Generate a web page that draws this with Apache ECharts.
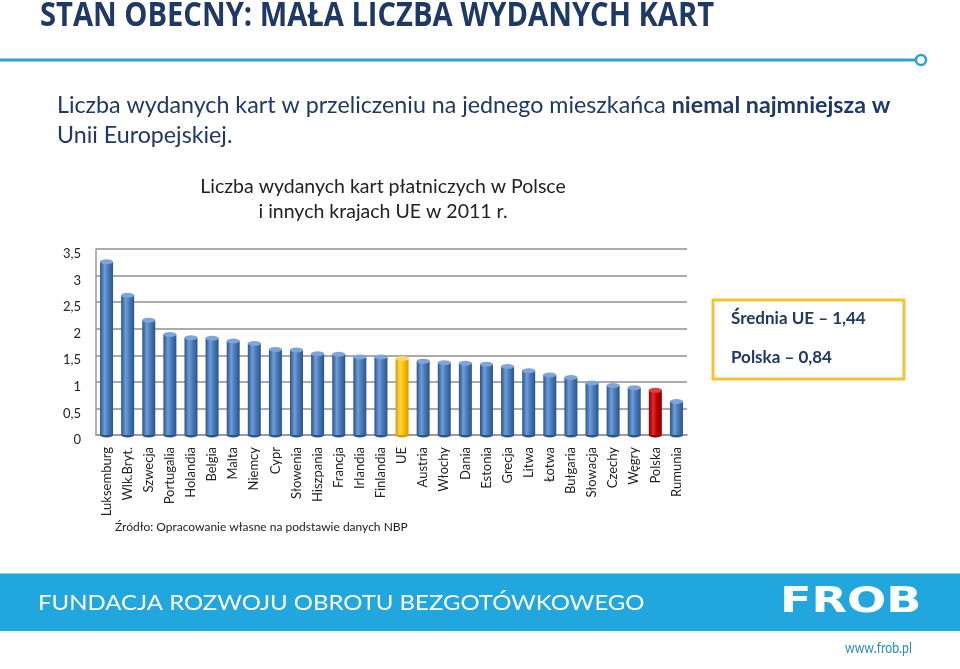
<!DOCTYPE html>
<html><head><meta charset="utf-8">
<script src="https://cdn.jsdelivr.net/npm/echarts@6/dist/echarts.min.js"></script>
<style>html,body{margin:0;padding:0;background:#fff}#c{width:960px;height:669px}</style>
</head><body><div id="c"></div>
<script>
const categories = ['Luksemburg','Wlk.Bryt.','Szwecja','Portugalia','Holandia','Belgia','Malta','Niemcy','Cypr','Słowenia','Hiszpania','Francja','Irlandia','Finlandia','UE','Austria','Włochy','Dania','Estonia','Grecja','Litwa','Łotwa','Bułgaria','Słowacja','Czechy','Węgry','Polska','Rumunia'];
const values = [3.26,2.63,2.16,1.89,1.83,1.82,1.77,1.72,1.61,1.60,1.53,1.52,1.47,1.47,1.44,1.39,1.36,1.35,1.33,1.29,1.21,1.13,1.08,0.98,0.93,0.89,0.84,0.63];
const yTicks = [0,0.5,1,1.5,2,2.5,3,3.5];
const titleText = 'STAN OBECNY: MAŁA LICZBA WYDANYCH KART';
const chartTitle = ['Liczba wydanych kart płatniczych w Polsce','i innych krajach UE w 2011 r.'];
const noteLines = ['Średnia UE – 1,44','Polska – 0,84'];
const sourceText = 'Źródło: Opracowanie własne na podstawie danych NBP';

const palettes = {
  def: {edge:'#2B5489', mid:'#6E9DD8', base:'#4A7DBD', cap:'#7DA5DA'},
  UE: {edge:'#D99A00', mid:'#FFD84D', base:'#FFC000', cap:'#FFD966'},
  Polska: {edge:'#8E0000', mid:'#E22A2A', base:'#C00000', cap:'#E04040'}
};
function pal(name){ return palettes[name] || palettes.def; }
function grad(p){
  return new echarts.graphic.LinearGradient(0,0,1,0,[
    {offset:0,color:p.edge},{offset:0.35,color:p.mid},{offset:0.6,color:p.base},{offset:1,color:p.edge}]);
}

const chart = echarts.init(document.getElementById('c'));
const navy = '#1F3864';
chart.setOption({
  animation:false,
  backgroundColor:'#fff',
  grid:{left:96,top:249,width:591,height:186},
  xAxis:{type:'category',data:categories,
    axisLine:{show:true,lineStyle:{color:'#999',width:1.5}},
    axisTick:{show:false},
    axisLabel:{rotate:90,interval:0,margin:12,fontFamily:'Lato',fontSize:13,color:'#222'}},
  yAxis:{type:'value',min:0,max:3.5,interval:0.5,
    axisLine:{show:true,lineStyle:{color:'#999',width:1.5}},
    axisTick:{show:false},
    splitLine:{lineStyle:{color:'#8f8f8f',width:1.5}},
    axisLabel:{margin:15,fontFamily:'Lato',fontSize:13,color:'#222',verticalAlign:'top',lineHeight:10,
      formatter:v=>String(v).replace('.',',')}},
  series:[
    {type:'bar',barWidth:13,
      data:values.map((v,i)=>({value:v,itemStyle:{color:grad(pal(categories[i]))}}))},
    {type:'pictorialBar',symbol:'circle',symbolSize:[13,5],symbolPosition:'end',symbolOffset:[0,'-50%'],z:3,
      data:values.map((v,i)=>({value:v,itemStyle:{color:pal(categories[i]).cap}}))},
    {type:'pictorialBar',symbol:'circle',symbolSize:[13,5],symbolPosition:'start',symbolOffset:[0,'50%'],z:1,
      data:values.map((v,i)=>({value:v,itemStyle:{color:pal(categories[i]).edge}}))}
  ],
  graphic:[
    {type:'text',x:40,y:16,scaleX:0.857,style:{text:titleText,font:'bold 34px "Open Sans"',fill:navy,textVerticalAlign:'middle'}},
    {type:'line',shape:{x1:0,y1:60,x2:915,y2:60},style:{stroke:'#2FA3CF',lineWidth:3}},
    {type:'circle',shape:{cx:921,cy:60,r:5},style:{stroke:'#2FA3CF',lineWidth:2.5,fill:'#fff'}},
    {type:'text',x:57,y:106,scaleX:1.01,style:{
      text:'{n|Liczba wydanych kart w przeliczeniu na jednego mieszkańca }{b|niemal najmniejsza w}',
      textVerticalAlign:'middle',
      rich:{n:{font:'23px Lato',fill:navy,color:navy},b:{font:'bold 23px Lato',fill:navy,color:navy}}}},
    {type:'text',x:57,y:136,scaleX:1.01,style:{text:'Unii Europejskiej.',font:'23px Lato',fill:navy,textVerticalAlign:'middle'}},
    {type:'text',x:383,y:187,style:{text:chartTitle[0],font:'19.5px Lato',fill:'#222',textAlign:'center',textVerticalAlign:'middle'}},
    {type:'text',x:383,y:212,style:{text:chartTitle[1],font:'19.5px Lato',fill:'#222',textAlign:'center',textVerticalAlign:'middle'}},
    {type:'rect',shape:{x:713,y:300,width:191,height:79},style:{stroke:'#F2C335',lineWidth:3,fill:'#fff'}},
    {type:'text',x:731,y:319,style:{text:noteLines[0],font:'bold 17px Lato',fill:navy,textVerticalAlign:'middle'}},
    {type:'text',x:731,y:358,style:{text:noteLines[1],font:'bold 17px Lato',fill:navy,textVerticalAlign:'middle'}},
    {type:'text',x:115,y:527,style:{text:sourceText,font:'12px Lato',fill:'#222',textVerticalAlign:'middle'}},
    {type:'rect',shape:{x:0,y:573,width:960,height:58},style:{fill:'#22A6DE'}},
    {type:'line',shape:{x1:0,y1:573.5,x2:960,y2:573.5},style:{stroke:'#8ED3F0',lineWidth:1}},
    {type:'text',x:38,y:603,scaleX:1.14,style:{text:'FUNDACJA ROZWOJU OBROTU BEZGOTÓWKOWEGO',font:'21px Lato',fill:'#fff',textVerticalAlign:'middle'}},
    {type:'text',x:780,y:603,scaleX:1.28,style:{text:'FROB',font:'bold 36px "DejaVu Sans"',fill:'#fff',textVerticalAlign:'middle'}},
    {type:'text',x:845,y:648,scaleX:0.77,style:{text:'www.frob.pl',font:'16px Lato',fill:'#2A8CC0',textVerticalAlign:'middle'}}
  ]
});
</script></body></html>
